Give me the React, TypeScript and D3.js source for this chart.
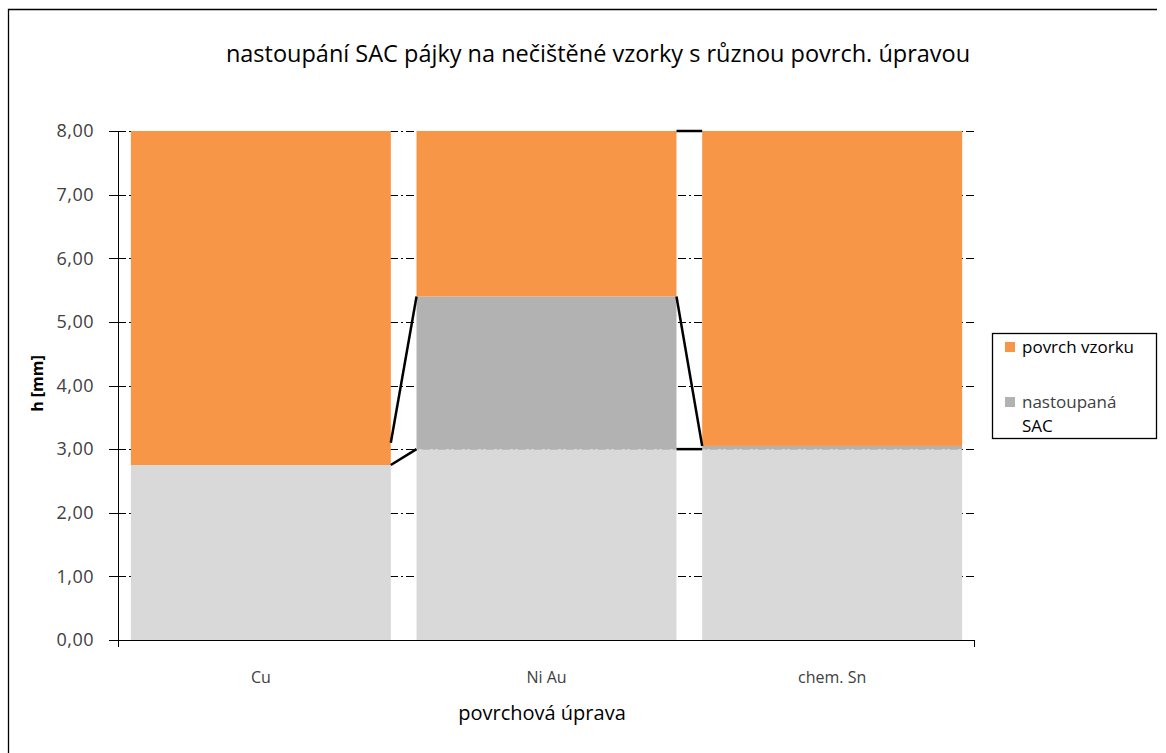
import React, { useEffect, useRef } from 'react';
import * as d3 from 'd3';

// categories and stacked series (mm)
const categories = ['Cu', 'Ni Au', 'chem. Sn'];
const baseValues = [2.75, 3.0, 3.0];          // hidden base series (light grey)
const sacValues = [0, 2.4, 0.05];             // nastoupaná SAC
const povrchValues = [5.25, 2.6, 4.95];       // povrch vzorku
const yTicks = [0, 1, 2, 3, 4, 5, 6, 7, 8];

// series lines between neighbouring bars
const seriesLinesFrom = [2.75, 3.1, 3.0, 5.4, 8.0];
const seriesLinesTo = [3.0, 5.4, 3.0, 3.05, 8.0];
const seriesLinesPair = [0, 0, 1, 1, 1]; // index of left bar

const FONT = '"Open Sans", "Noto Sans", sans-serif';

export default function App() {
  const svgRef = useRef<SVGSVGElement>(null);

  useEffect(() => {
    if (!svgRef.current) return;
    const svg = d3.select(svgRef.current);
    svg.selectAll('*').remove();

    const W = 1166, H = 753;
    const left = 118, right = 975, top = 131, bottom = 640;

    svg.append('rect').attr('width', W).attr('height', H).attr('fill', '#ffffff');

    // outer frame (only top and left edges visible)
    svg.append('path')
      .attr('d', `M8.5,${H + 5} V9.5 H1157`)
      .attr('fill', 'none')
      .attr('stroke', '#000')
      .attr('stroke-width', 1.3);

    const x = d3.scaleBand<string>()
      .domain(categories)
      .range([left, right])
      .paddingInner(0.09)
      .paddingOuter(0.045);

    const y = d3.scaleLinear().domain([0, 8]).range([bottom, top]);

    // grid lines (dash-dot)
    svg.selectAll('.grid')
      .data(yTicks.filter(d => d > 0))
      .enter()
      .append('line')
      .attr('x1', left)
      .attr('x2', right)
      .attr('y1', d => Math.round(y(d)) + 0.5)
      .attr('y2', d => Math.round(y(d)) + 0.5)
      .attr('stroke', '#000')
      .attr('stroke-width', 1.2)
      .attr('stroke-dasharray', '8,3,2,3');

    // stacked bars
    const rows = categories.map((c, i) => ({
      cat: c, base: baseValues[i], sac: sacValues[i], povrch: povrchValues[i]
    }));
    const stack = d3.stack<any>().keys(['base', 'sac', 'povrch']);
    const layers = stack(rows);
    const colors: Record<string, string> = { base: '#d9d9d9', sac: '#b2b2b2', povrch: '#f79646' };

    layers.forEach(layer => {
      svg.append('g')
        .selectAll('rect')
        .data(layer)
        .enter()
        .append('rect')
        .attr('x', d => x(d.data.cat) as number)
        .attr('width', x.bandwidth())
        .attr('y', d => y(d[1]))
        .attr('height', d => Math.max(0, y(d[0]) - y(d[1])))
        .attr('fill', colors[layer.key]);
    });

    // series lines
    seriesLinesPair.forEach((p, i) => {
      const x1 = (x(categories[p]) as number) + x.bandwidth();
      const x2 = x(categories[p + 1]) as number;
      svg.append('line')
        .attr('x1', x1).attr('x2', x2)
        .attr('y1', y(seriesLinesFrom[i]))
        .attr('y2', y(seriesLinesTo[i]))
        .attr('stroke', '#000')
        .attr('stroke-width', 2.5);
    });

    // y axis
    svg.append('line')
      .attr('x1', left + 0.5).attr('x2', left + 0.5)
      .attr('y1', top).attr('y2', bottom + 7)
      .attr('stroke', '#000');
    svg.selectAll('.ytick')
      .data(yTicks)
      .enter()
      .append('line')
      .attr('x1', left - 9).attr('x2', left)
      .attr('y1', d => Math.round(y(d)) + 0.5)
      .attr('y2', d => Math.round(y(d)) + 0.5)
      .attr('stroke', '#000');
    svg.selectAll('.ylab')
      .data(yTicks)
      .enter()
      .append('text')
      .attr('x', 94)
      .attr('y', d => y(d))
      .attr('dy', '0.35em')
      .attr('text-anchor', 'end')
      .attr('font-family', FONT)
      .attr('font-size', 18)
      .attr('letter-spacing', 0.5)
      .attr('fill', '#404040')
      .text(d => d3.format('.2f')(d).replace('.', ','));

    // x axis
    svg.append('line')
      .attr('x1', left - 9).attr('x2', right)
      .attr('y1', bottom + 0.5).attr('y2', bottom + 0.5)
      .attr('stroke', '#000');
    svg.append('line')
      .attr('x1', right - 0.5).attr('x2', right - 0.5)
      .attr('y1', bottom).attr('y2', bottom + 7)
      .attr('stroke', '#000');
    svg.selectAll('.xlab')
      .data(categories)
      .enter()
      .append('text')
      .attr('x', d => (x(d) as number) + x.bandwidth() / 2)
      .attr('y', 683)
      .attr('text-anchor', 'middle')
      .attr('font-family', FONT)
      .attr('font-size', 16)
      .attr('fill', '#404040')
      .text(d => d);

    // titles
    svg.append('text')
      .attr('x', 598).attr('y', 62)
      .attr('text-anchor', 'middle')
      .attr('font-family', FONT)
      .attr('font-size', 23.5)
      .attr('fill', '#000')
      .text('nastoupání SAC pájky na nečištěné vzorky s různou povrch. úpravou');

    svg.append('text')
      .attr('x', 542).attr('y', 720)
      .attr('text-anchor', 'middle')
      .attr('font-family', FONT)
      .attr('font-size', 20)
      .attr('fill', '#000')
      .text('povrchová úprava');

    svg.append('text')
      .attr('transform', `translate(43,${(top + bottom) / 2 - 2}) rotate(-90)`)
      .attr('text-anchor', 'middle')
      .attr('font-family', FONT)
      .attr('font-size', 16)
      .attr('font-weight', 'bold')
      .attr('fill', '#000')
      .text('h [mm]');

    // legend
    const lg = svg.append('g');
    lg.append('rect')
      .attr('x', 992.5).attr('y', 333.5)
      .attr('width', 164).attr('height', 105)
      .attr('fill', '#fff')
      .attr('stroke', '#000')
      .attr('stroke-width', 1.3);
    const legendItems = [
      { lines: ['povrch vzorku'], color: colors.povrch, y: 347 },
      { lines: ['nastoupaná', 'SAC'], color: colors.sac, y: 402 }
    ];
    legendItems.forEach(it => {
      lg.append('rect')
        .attr('x', 1005).attr('y', it.y - 5)
        .attr('width', 10).attr('height', 10)
        .attr('fill', it.color);
      it.lines.forEach((t, j) => {
        lg.append('text')
          .attr('x', 1022).attr('y', it.y + j * 24)
          .attr('dy', '0.35em')
          .attr('font-family', FONT)
          .attr('font-size', 17)
          .attr('fill', j === 0 && it.color === colors.sac ? '#404040' : '#000')
          .text(t);
      });
    });
  }, []);

  return (
    <svg
      ref={svgRef}
      width={1166}
      height={753}
      style={{ position: 'absolute', left: 0, top: 0, display: 'block' }}
    />
  );
}
